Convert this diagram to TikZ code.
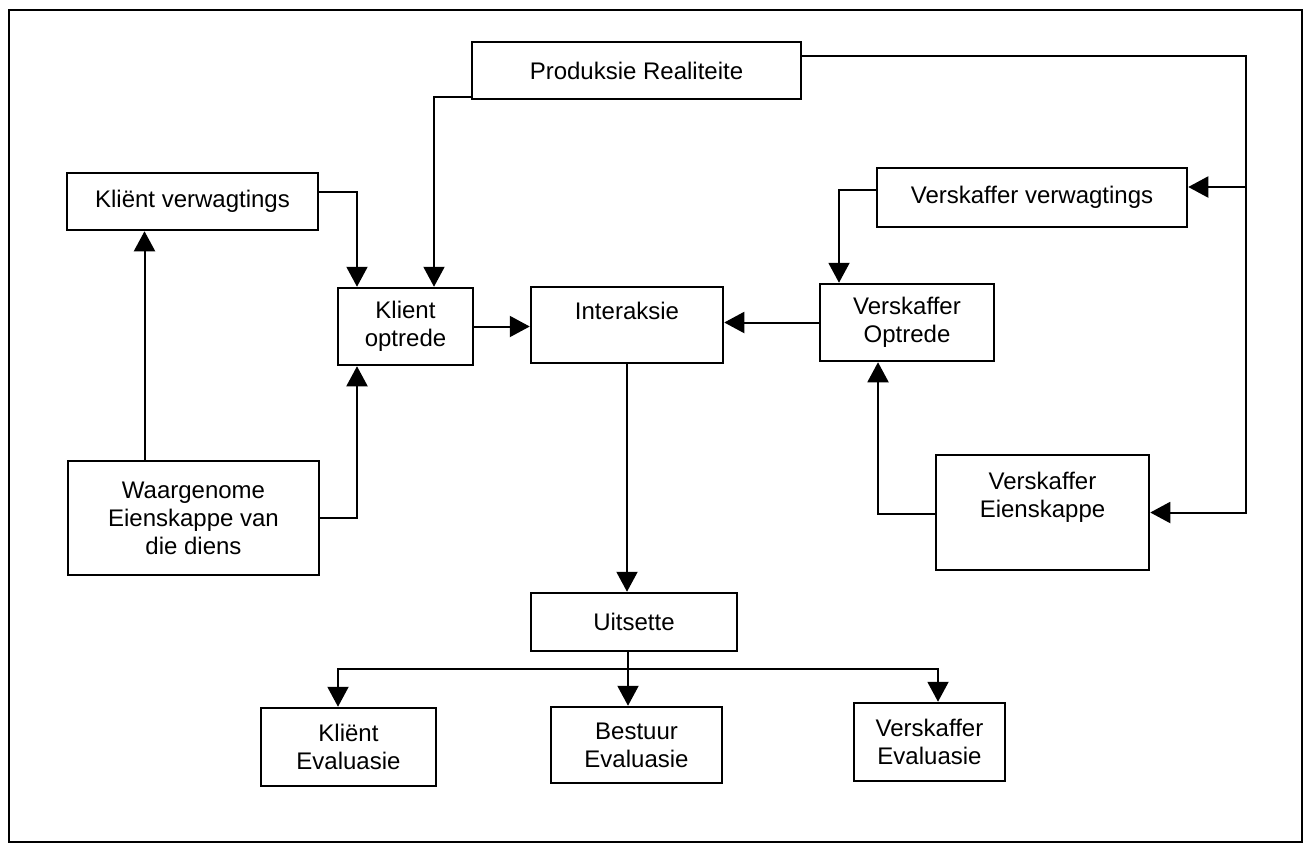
\documentclass[tikz,border=0pt]{standalone}
\usepackage{fontspec}
\setmainfont{Liberation Sans}
\usetikzlibrary{arrows.meta}

\begin{document}
\begin{tikzpicture}[x=1pt,y=-1pt,
    blok/.style={draw,line width=2.5pt,align=center,inner sep=0pt,font=\fontsize{24}{28}\selectfont},
    pyl/.style={line width=2pt,-{Triangle[length=20pt,width=21pt]}}]
  \useasboundingbox (0,0) rectangle (1306,847);
  \draw[line width=2pt] (9,10) rectangle (1302,842);

  % boxes
  \node[blok,minimum width=329pt,minimum height=57pt] (prod) at (636.5,70.5) {Produksie Realiteite};
  \node[blok,minimum width=251pt,minimum height=57pt] (kverw) at (192.5,201.5) {Kliënt verwagtings};
  \node[blok,minimum width=310pt,minimum height=59pt] (vverw) at (1032,197.5) {Verskaffer verwagtings};
  \node[blok,minimum width=135pt,minimum height=77pt] (kopt) at (405.5,326.5) {Klient\\optrede};
  \node[blok,minimum width=192pt,minimum height=76pt] (inter) at (627,325) {Interaksie\\\mbox{}};
  \node[blok,minimum width=174pt,minimum height=77pt] (vopt) at (907,322.5) {Verskaffer\\Optrede};
  \node[blok,minimum width=251pt,minimum height=114pt] (waar) at (193.5,518) {Waargenome\\Eienskappe van\\die diens};
  \node[blok,minimum width=213pt,minimum height=115pt] (veien) at (1042.5,512.5) {Verskaffer\\Eienskappe\\\strut};
  \node[blok,minimum width=206pt,minimum height=58pt] (uit) at (634,622) {Uitsette};
  \node[blok,minimum width=175pt,minimum height=78pt] (keval) at (348.5,747) {Kliënt\\Evaluasie};
  \node[blok,minimum width=171pt,minimum height=76pt] (beval) at (636.5,745) {Bestuur\\Evaluasie};
  \node[blok,minimum width=151pt,minimum height=78pt] (veval) at (929.5,742) {Verskaffer\\Evaluasie};

  % connectors
  \coordinate (spoor) at (1246,300);
  \coordinate (pv) at ([yshift=10.5pt]vverw.east);
  \coordinate (w1) at ([xshift=-49pt]waar.north);
  \coordinate (tak) at (628,669);

  \draw[pyl] ([yshift=9.5pt]kverw.east) -| ([xshift=-48.5pt]kopt.north);
  \draw[pyl] ([yshift=-26.5pt]prod.west) -| ([xshift=28.5pt]kopt.north);
  \draw[pyl] ([yshift=14.5pt]prod.east) -| (spoor) |- (veien.east);
  \draw[pyl] (spoor |- pv) -- (pv);
  \draw[pyl] ([yshift=7.5pt]vverw.west) -| ([xshift=-68pt]vopt.north);
  \draw[pyl] (kopt.east) -- (kopt.east -| inter.west);
  \draw[pyl] (vopt.west) -- (vopt.west -| inter.east);
  \draw[pyl] (inter.south) -- (inter.south |- uit.north);
  \draw[pyl] (waar.east) -| ([xshift=-48.5pt]kopt.south);
  \draw[pyl] (w1) -- (w1 |- kverw.south);
  \draw[pyl] ([yshift=-1.5pt]veien.west) -| ([xshift=-29pt]vopt.south);
  \draw[pyl] (uit.south -| tak) -- (tak |- beval.north);
  \foreach \doel/\dx in {keval/-10.5,veval/8.5}
    \draw[pyl] (tak) -| ([xshift=\dx pt]\doel.north);
\end{tikzpicture}
\end{document}
